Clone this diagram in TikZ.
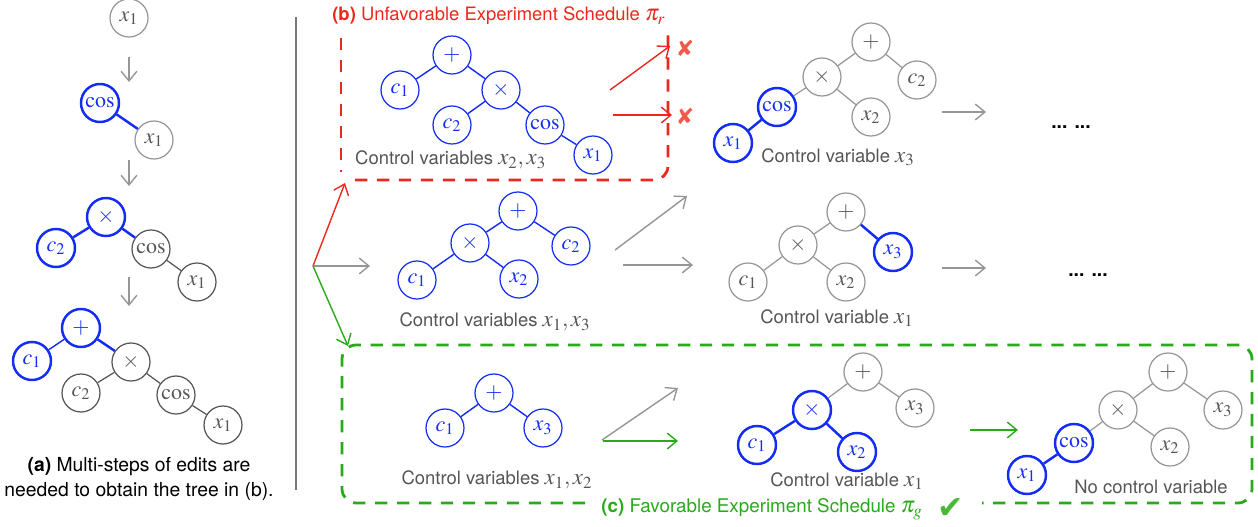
\documentclass[tikz,border=0pt]{standalone}
\usepackage{mathptmx}
\usepackage[no-math]{fontspec}
\setmainfont{TeX Gyre Heros}
\newfontfamily\symfont{DejaVu Sans}
\usetikzlibrary{arrows.meta}

\definecolor{tblue}{RGB}{20,45,245}
\definecolor{tgray}{RGB}{150,150,150}
\definecolor{dgray}{RGB}{85,85,85}
\definecolor{tred}{RGB}{235,40,30}
\definecolor{xred}{RGB}{240,90,75}
\definecolor{tgreen}{RGB}{40,170,25}
\definecolor{cgreen}{RGB}{75,185,55}

\newcommand{\labmath}[1]{{\fontsize{13}{13}\selectfont$#1$}}

\begin{document}
\begin{tikzpicture}[x=0.02cm,y=-0.02cm,
	tn/.style={circle,draw,minimum size=0.76cm,inner sep=0pt,font=\fontsize{12.5}{12}\selectfont,line width=0.7pt},
	gn/.style={tn,draw=tgray,text=dgray},
	dn/.style={tn,draw=dgray,text=dgray},
	bn/.style={tn,draw=tblue,text=tblue},
	bnew/.style={bn,line width=1.4pt},
	ge/.style={draw=tgray,line width=0.7pt},
	de/.style={draw=dgray,line width=0.7pt},
	be/.style={draw=tblue,line width=0.8pt},
	bw/.style={draw=tblue,line width=1.4pt},
	lab/.style={text=dgray,font=\fontsize{10.5}{12}\selectfont},
	xmark/.style={inner sep=0pt,font=\symfont\fontsize{12.5}{12.5}\selectfont},
	arr/.style={-{Straight Barb[length=5.5pt,width=9pt]},line width=0.8pt},
	box/.style={dash pattern=on 7pt off 5.5pt,line width=1.6pt,rounded corners=8pt}]

	\useasboundingbox (0,0) rectangle (1258,527);

	% (a) building the tree step by step
	\node[gn] (a1x) at (129,18) {$x_1$};

	\node[bnew] (a2cos) at (100,103) {$\cos$};
	\node[gn] (a2x) at (154,140) {$x_1$};
	\draw[bw] (a2cos) -- (a2x);

	\node[bnew] (a3t) at (106,217) {$\times$};
	\node[bnew] (a3c) at (56,248) {$c_2$};
	\node[dn] (a3cos) at (151,249) {$\cos$};
	\node[dn] (a3x) at (197,282) {$x_1$};
	\draw[bw] (a3t) -- (a3c);
	\draw[bw] (a3t) -- (a3cos);
	\draw[de] (a3cos) -- (a3x);

	\node[bnew] (a4p) at (81,328) {$+$};
	\node[bnew] (a4c1) at (32,361) {$c_1$};
	\node[dn] (a4t) at (131,362) {$\times$};
	\node[dn] (a4c2) at (81,393) {$c_2$};
	\node[dn] (a4cos) at (176,395) {$\cos$};
	\node[dn] (a4x) at (223,425) {$x_1$};
	\draw[be] (a4p) -- (a4c1);
	\draw[bw] (a4p) -- (a4t);
	\draw[de] (a4t) -- (a4c2);
	\draw[de] (a4t) -- (a4cos);
	\draw[de] (a4cos) -- (a4x);

	\foreach \i/\ya/\yb in {1/57/82,2/160/186,3/277/306}{
		\coordinate (da\i) at (129,\ya);
		\coordinate (db\i) at (129,\yb);
		\draw[arr,tgray] (da\i) -- (db\i);
	}

	\node[align=center,font=\fontsize{11}{14.7}\selectfont] (capa) at (139,479)
		{\textbf{(a)} Multi-steps of edits are\\needed to obtain the tree in (b).};

	\draw[tgray!80!black,line width=1.1pt] (296,17) -- (296,490);

	% (b) unfavorable schedule
	\node[anchor=west,inner sep=0pt,text=tred,font=\fontsize{10.5}{13}\selectfont] (titb) at (332,16)
		{\textbf{(b)} Unfavorable Experiment Schedule \labmath{\pi_r}};
	\draw[box,tred] (341,38) -- (341,172);
	\draw[box,tred] (355,180) -- (668,180) -- (668,30);

	\node[bn] (b1p) at (452,55) {$+$};
	\node[bn] (b1c1) at (400,90) {$c_1$};
	\node[bn] (b1t) at (501,90) {$\times$};
	\node[bn] (b1c2) at (452,125) {$c_2$};
	\node[bn] (b1cos) at (545,125) {$\cos$};
	\node[bn] (b1x) at (593,155) {$x_1$};
	\draw[be] (b1p) -- (b1c1);
	\draw[be] (b1p) -- (b1t);
	\draw[be] (b1t) -- (b1c2);
	\draw[be] (b1t) -- (b1cos);
	\draw[be] (b1cos) -- (b1x);
	\node[lab,anchor=west] (b1lab) at (349,160) {Control variables \labmath{x_2, x_3}};

	\coordinate (r1a) at (610,90);
	\coordinate (r1b) at (670,46);
	\coordinate (r2a) at (613,115);
	\coordinate (r2b) at (672,115);
	\draw[arr,tred] (r1a) -- (r1b);
	\draw[arr,tred] (r2a) -- (r2b);
	\node[xmark,text=xred] (no1) at (685,48) {✘};
	\node[xmark,text=xred] (no2) at (685,116) {✘};

	\node[gn] (b2p) at (871,42) {$+$};
	\node[gn] (b2t) at (822,77) {$\times$};
	\node[gn] (b2c) at (917,80) {$c_2$};
	\node[bnew] (b2cos) at (777,107) {$\cos$};
	\node[gn] (b2x2) at (871,117) {$x_2$};
	\node[bnew] (b2x1) at (733,143) {$x_1$};
	\draw[ge] (b2p) -- (b2t);
	\draw[ge] (b2p) -- (b2c);
	\draw[ge] (b2t) -- (b2cos);
	\draw[ge] (b2t) -- (b2x2);
	\draw[bw] (b2cos) -- (b2x1);
	\node[lab] (b2lab) at (838,157) {Control variable \labmath{x_3}};

	\coordinate (g1a) at (942,112);
	\coordinate (g1b) at (986,112);
	\draw[arr,tgray] (g1a) -- (g1b);
	\node[font=\fontsize{11}{13}\selectfont\bfseries] (dots1) at (1071,127) {... ...};

	% fork from the middle row
	\coordinate (fork) at (313,266);
	\coordinate (fr) at (345,183);
	\coordinate (fm) at (370,266);
	\coordinate (fg) at (348,346);
	\draw[arr,tred] (fork) -- (fr);
	\draw[arr,tgray] (fork) -- (fm);
	\draw[arr,tgreen] (fork) -- (fg);

	\node[bn] (c1p) at (518,211) {$+$};
	\node[bn] (c1t) at (470,243) {$\times$};
	\node[bn] (c1c2) at (571,246) {$c_2$};
	\node[bn] (c1c1) at (417,280) {$c_1$};
	\node[bn] (c1x2) at (519,279) {$x_2$};
	\draw[be] (c1p) -- (c1t);
	\draw[be] (c1p) -- (c1c2);
	\draw[be] (c1t) -- (c1c1);
	\draw[be] (c1t) -- (c1x2);
	\node[lab] (c1lab) at (495,322) {Control variables \labmath{x_1, x_3}};

	\coordinate (g2a) at (615,250);
	\coordinate (g2b) at (687,196);
	\coordinate (g3a) at (623,265);
	\coordinate (g3b) at (693,265);
	\draw[arr,tgray] (g2a) -- (g2b);
	\draw[arr,tgray] (g3a) -- (g3b);

	\node[gn] (c2p) at (846,212) {$+$};
	\node[gn] (c2t) at (798,245) {$\times$};
	\node[bnew] (c2x3) at (893,252) {$x_3$};
	\node[gn] (c2c1) at (748,282) {$c_1$};
	\node[gn] (c2x2) at (846,282) {$x_2$};
	\draw[ge] (c2p) -- (c2t);
	\draw[bw] (c2p) -- (c2x3);
	\draw[ge] (c2t) -- (c2c1);
	\draw[ge] (c2t) -- (c2x2);
	\node[lab] (c2lab) at (837,318) {Control variable \labmath{x_1}};

	\coordinate (g4a) at (942,268);
	\coordinate (g4b) at (986,268);
	\draw[arr,tgray] (g4a) -- (g4b);
	\node[font=\fontsize{11}{13}\selectfont\bfseries] (dots2) at (1088,275) {... ...};

	% (c) favorable schedule
	\draw[box,tgreen] (585,503) -- (342,503) -- (342,345) -- (1252,345) -- (1252,503) -- (982,503);
	\node[anchor=west,inner sep=0pt,text=tgreen,font=\fontsize{10.7}{13}\selectfont] (titc) at (601,509)
		{\textbf{(c)} Favorable Experiment Schedule \labmath{\pi_g}};
	\node[anchor=west,inner sep=0pt,text=cgreen,font=\symfont\fontsize{18}{18}\selectfont] (ok) at ([xshift=8pt]titc.east) {✔};

	\node[bn] (d1p) at (494,393) {$+$};
	\node[bn] (d1c1) at (445,428) {$c_1$};
	\node[bn] (d1x3) at (543,428) {$x_3$};
	\draw[be] (d1p) -- (d1c1);
	\draw[be] (d1p) -- (d1x3);
	\node[lab] (d1lab) at (497,480) {Control variables \labmath{x_1, x_2}};

	\coordinate (g5a) at (602,440);
	\coordinate (g5b) at (678,388);
	\coordinate (e1a) at (603,441);
	\coordinate (e1b) at (678,441);
	\draw[arr,tgray] (g5a) -- (g5b);
	\draw[arr,tgreen] (e1a) -- (e1b);

	\node[gn] (d2p) at (863,372) {$+$};
	\node[bnew] (d2t) at (812,410) {$\times$};
	\node[gn] (d2x3) at (915,408) {$x_3$};
	\node[bnew] (d2c1) at (757,445) {$c_1$};
	\node[bnew] (d2x2) at (857,452) {$x_2$};
	\draw[ge] (d2p) -- (d2t);
	\draw[ge] (d2p) -- (d2x3);
	\draw[bw] (d2t) -- (d2c1);
	\draw[bw] (d2t) -- (d2x2);
	\node[lab,inner sep=0pt] (d2lab) at (847,481) {Control variable \labmath{x_1}};

	\coordinate (e2a) at (970,430);
	\coordinate (e2b) at (1018,430);
	\draw[arr,tgreen] (e2a) -- (e2b);

	\node[gn] (d3p) at (1168,372) {$+$};
	\node[gn] (d3t) at (1118,410) {$\times$};
	\node[gn] (d3x3) at (1223,410) {$x_3$};
	\node[bnew] (d3cos) at (1074,443) {$\cos$};
	\node[gn] (d3x2) at (1170,447) {$x_2$};
	\node[bnew] (d3x1) at (1027,475) {$x_1$};
	\draw[ge] (d3p) -- (d3t);
	\draw[ge] (d3p) -- (d3x3);
	\draw[ge] (d3t) -- (d3cos);
	\draw[ge] (d3t) -- (d3x2);
	\draw[bw] (d3cos) -- (d3x1);
	\node[lab] (d3lab) at (1151,487) {No control variable};
\end{tikzpicture}
\end{document}
